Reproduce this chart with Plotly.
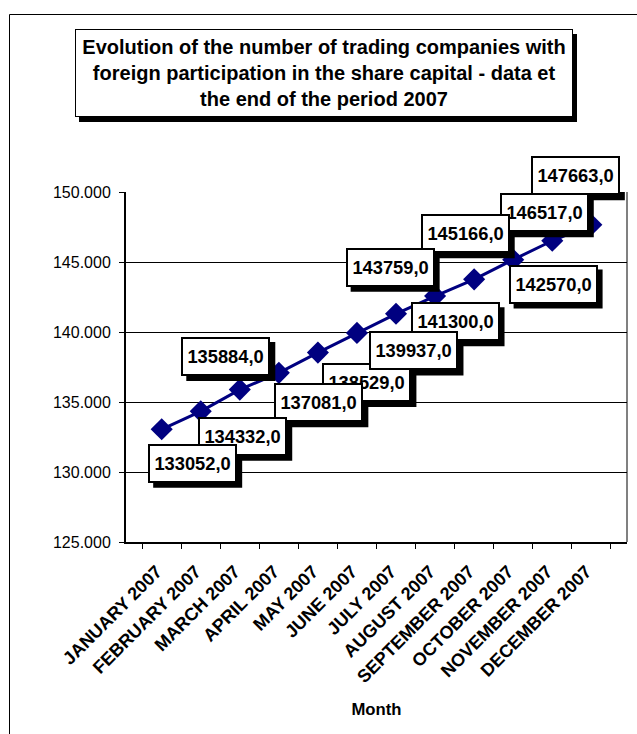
import plotly.graph_objects as go

# ---- data ----
months = ["JANUARY 2007", "FEBRUARY 2007", "MARCH 2007", "APRIL 2007", "MAY 2007",
          "JUNE 2007", "JULY 2007", "AUGUST 2007", "SEPTEMBER 2007", "OCTOBER 2007",
          "NOVEMBER 2007", "DECEMBER 2007"]
companies = [133052, 134332, 135884, 137081, 138529, 139937,
             141300, 142570, 143759, 145166, 146517, 147663]
y_ticks = [125000, 130000, 135000, 140000, 145000, 150000]
title_text = ("Evolution of the number of trading companies with<br>"
              "foreign participation in the share capital - data et<br>"
              "the end of the period 2007")
x_title = "Month"

# ---- label placement (pixel offsets from each point, screen coords, +y down) ----
label_dx = [31, 42, -14, 40, 49, 57, 59, 118, -84, -48, -8, -16]
label_dy = [34, 25, -33, 30, 30, 18, 8, -12, -12, -26, -28, -49]
draw_order = [11, 10, 9, 8, 7, 6, 4, 5, 3, 2, 1, 0]

FONT = "Liberation Sans, Arial, sans-serif"
W, H = 637, 734
L, R, T, B = 126, 10, 192, 192
PW, PH = W - L - R, H - T - B
BOX_W, BOX_H, SHADOW = 89, 39, 5


def px_to_paper_x(px):
    return (px - L) / PW


def px_to_paper_y(py):
    return (H - B - py) / PH


fig = go.Figure()
fig.add_trace(go.Scatter(
    x=months, y=companies, mode="lines+markers",
    line=dict(color="#000080", width=3),
    marker=dict(symbol="diamond", size=17, color="#000080"),
    hoverinfo="skip", showlegend=False, cliponaxis=False,
))

annotations = []
shapes = [
    # outer chart border
    dict(type="rect", xref="paper", yref="paper",
         x0=px_to_paper_x(9.5), x1=px_to_paper_x(645),
         y0=px_to_paper_y(745), y1=px_to_paper_y(14.5),
         line=dict(color="#000000", width=1), layer="below"),
    # right plot-area edge
    dict(type="line", xref="paper", yref="paper", x0=1, x1=1, y0=0, y1=1,
         line=dict(color="#808080", width=2), layer="below"),
]

for i in draw_order:
    txt = f"{companies[i]:.1f}".replace(".", ",")
    cx, cy = label_dx[i] + SHADOW, -label_dy[i] - SHADOW
    shapes.append(dict(type="rect", xref="x", yref="y",
                       xsizemode="pixel", ysizemode="pixel",
                       xanchor=i, yanchor=companies[i],
                       x0=cx - BOX_W / 2, x1=cx + BOX_W / 2,
                       y0=cy - BOX_H / 2, y1=cy + BOX_H / 2,
                       fillcolor="#000000", line=dict(width=0), layer="above"))
    annotations.append(dict(text=txt, x=months[i], y=companies[i], xref="x", yref="y",
                            showarrow=False, width=BOX_W - 10, height=BOX_H - 10,
                            borderpad=3, borderwidth=2,
                            xanchor="center", yanchor="middle",
                            bgcolor="#ffffff", bordercolor="#000000",
                            xshift=label_dx[i], yshift=-label_dy[i],
                            font=dict(family=FONT, size=18.3, color="#000000", weight="bold")))

# title box with shadow
tx0, tx1, ty0, ty1 = 75, 573, 29, 117
shapes.append(dict(type="rect", xref="paper", yref="paper",
                   x0=px_to_paper_x(tx0 + 4), x1=px_to_paper_x(tx1 + 4),
                   y0=px_to_paper_y(ty1 + 5), y1=px_to_paper_y(ty0 + 5),
                   fillcolor="#000000", line=dict(width=0), layer="above"))
annotations.append(dict(text=title_text, x=px_to_paper_x((tx0 + tx1) / 2),
                        y=px_to_paper_y((ty0 + ty1) / 2), xref="paper", yref="paper",
                        showarrow=False, width=tx1 - tx0 - 6, height=ty1 - ty0 - 6,
                        borderpad=2, borderwidth=1,
                        xanchor="center", yanchor="middle", align="center",
                        bgcolor="#ffffff", bordercolor="#000000",
                        font=dict(family=FONT, size=20, color="#000000", weight="bold")))

fig.update_layout(
    width=W, height=H,
    margin=dict(l=L, r=R, t=T, b=B, autoexpand=False),
    paper_bgcolor="#ffffff", plot_bgcolor="#ffffff",
    separators=",.",
    font=dict(family=FONT, color="#000000"),
    annotations=annotations,
    shapes=shapes,
    showlegend=False,
)
fig.update_xaxes(
    type="category", tickangle=-45, tickson="boundaries",
    ticks="outside", ticklen=5, tickcolor="#000000", tickwidth=1,
    tickfont=dict(family=FONT, size=18, color="#000000", weight="bold"),
    ticklabelstandoff=10, ticklabelshift=-5,
    showline=True, linecolor="#000000", linewidth=2,
    showgrid=False, zeroline=False, automargin=False,
    title=dict(text=x_title, standoff=17,
               font=dict(family=FONT, size=16.7, color="#000000", weight="bold")),
)
fig.update_yaxes(
    range=[125000, 150000], tickvals=y_ticks, tickformat=",d",
    ticks="outside", ticklen=5, tickcolor="#000000", tickwidth=1,
    tickfont=dict(family=FONT, size=16, color="#000000"),
    ticklabelstandoff=5,
    showline=True, linecolor="#000000", linewidth=2,
    showgrid=True, gridcolor="#000000", gridwidth=1,
    zeroline=False, automargin=False,
)

fig.write_html("out.html", config={"displayModeBar": False},
               post_script="document.body.style.margin='0px';")
